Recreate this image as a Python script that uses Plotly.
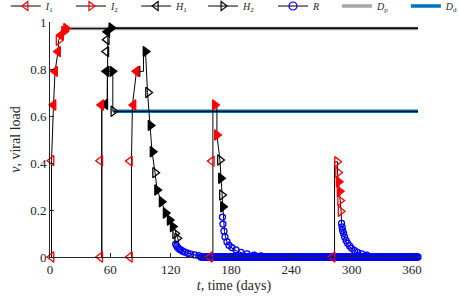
import numpy as np
import plotly.graph_objects as go

# ---------------- data ----------------
# black trajectory lines (t in days, v viral load)
trajA_t = [1.5, 1.5, 3.5, 5, 8, 8.5, 11, 14, 16, 366]
trajA_v = [0.0, 0.41, 0.647, 0.79, 0.874, 0.922, 0.945, 0.96, 0.972, 0.972]
trajB_t = [51.5, 51.5, 57, 57, 57, 57.5, 58, 61, 366]
trajB_v = [0.0, 0.647, 0.65, 0.79, 0.874, 0.925, 0.96, 0.975, 0.975]
trajC_t = [51.5, 51.5, 57, 57, 62.5, 62.5, 366]
trajC_v = [0.0, 0.647, 0.65, 0.79, 0.79, 0.62, 0.62]
trajD_t = [81, 81, 82, 86, 93, 93, 95, 97, 99.5, 101.5, 104.5, 106.5, 111, 115, 119, 123,
           126, 127.6, 128, 131, 136, 142, 150, 366]
trajD_v = [0.0, 0.41, 0.647, 0.79, 0.79, 0.874, 0.874, 0.70, 0.56, 0.448, 0.359, 0.285, 0.235,
           0.187, 0.157, 0.129, 0.094, 0.072, 0.05, 0.03, 0.018, 0.01, 0.005, 0.0]
trajE_t = [162, 162, 162, 166, 166, 169, 170, 171, 172, 172, 173, 173.5, 174.5, 176, 179, 183,
           189, 196, 205, 215]
trajE_v = [0.0, 0.41, 0.647, 0.647, 0.519, 0.413, 0.335, 0.264, 0.214, 0.17, 0.136, 0.108,
           0.086, 0.065, 0.045, 0.03, 0.02, 0.012, 0.006, 0.002]
trajF_t = [283, 283, 286, 286, 287, 288, 289, 289.5, 290, 291, 292, 293, 295, 297, 300, 304,
           309, 315, 322]
trajF_v = [0.0, 0.405, 0.405, 0.36, 0.32, 0.28, 0.24, 0.195, 0.143, 0.12, 0.10, 0.08, 0.062,
           0.048, 0.035, 0.022, 0.012, 0.006, 0.003]

# plateau lines
Dp_t = [12, 366]
Dp_v = [0.972, 0.972]
Dd_t = [63, 366]
Dd_v = [0.62, 0.62]

# marker series (fill: 1 = looks solid, 0 = open)
I1_t = [1.5, 1.5, 3.5, 5, 8, 11, 50, 50, 51, 79.5, 79.5, 83, 86, 159, 161, 281]
I1_v = [0.0, 0.41, 0.647, 0.79, 0.874, 0.945, 0.0, 0.41, 0.647, 0.0, 0.408, 0.647, 0.79,
        0.0, 0.408, 0.0]
I1_f = [0, 0, 1, 1, 1, 1, 0, 0, 1, 0, 0, 1, 1, 0, 0, 0]

I2_t = [8.5, 14, 16, 164, 166, 285.5, 286.5, 287, 288, 288.5, 289]
I2_v = [0.922, 0.96, 0.972, 0.647, 0.519, 0.405, 0.36, 0.32, 0.28, 0.24, 0.195]
I2_f = [0, 1, 1, 1, 1, 0, 0, 1, 1, 0, 0]

H1_t = [55, 56, 56, 56.5, 57, 87]
H1_v = [0.65, 0.79, 0.874, 0.925, 0.958, 0.79]
H1_f = [1, 1, 0, 0, 1, 0]

H2_t = [61, 62, 63, 95, 97.5, 100, 102, 104.5, 106.5, 111, 115, 119, 122, 124.5, 126.5,
        169, 170, 171, 172]
H2_v = [0.975, 0.79, 0.62, 0.874, 0.70, 0.56, 0.448, 0.359, 0.285, 0.235, 0.187, 0.157,
        0.13, 0.10, 0.08, 0.413, 0.335, 0.264, 0.214]
H2_f = [1, 1, 0, 1, 0, 1, 1, 0, 1, 1, 1, 1, 1, 0, 0, 0, 1, 0, 1]

R_t = [125, 126, 127, 128.5, 130, 132, 134, 137, 140, 144, 148,
       171.5, 172, 173, 174, 176, 178, 181, 185, 190, 196, 203, 210,
       290, 290.5, 291, 292, 293, 294.5, 296, 298, 300, 303, 306, 310, 315]
R_v = [0.055, 0.047, 0.04, 0.034, 0.03, 0.025, 0.021, 0.016, 0.012, 0.009, 0.006,
       0.17, 0.14, 0.11, 0.086, 0.065, 0.05, 0.04, 0.03, 0.02, 0.013, 0.008, 0.005,
       0.143, 0.128, 0.113, 0.10, 0.085, 0.07, 0.058, 0.047, 0.037, 0.027, 0.02, 0.013, 0.008]
# daily samples where R sits on v = 0
R_zero_t = np.arange(150, 367)
R_zero_v = np.zeros(len(R_zero_t))

x_ticks = [0, 60, 120, 180, 240, 300, 360]
y_ticks = [0, 0.2, 0.4, 0.6, 0.8, 1]
y_tick_labels = ["0", "0.2", "0.4", "0.6", "0.8", "1"]

# ---------------- figure ----------------
RED = "#FF0000"
BLUE = "#0000FF"
BLACK = "#000000"
GRAY = "#A6A6A6"
DBLUE = "#0072BD"
FONT = "Liberation Serif"

# one legend box per entry, placed along the top row (paper x of each box)
legend_ids = ["legend", "legend2", "legend3", "legend4", "legend5", "legend6", "legend7"]
legend_x = [-0.12, 0.057, 0.234, 0.416, 0.606, 0.780, 0.967]

fig = go.Figure()

# plateau lines
fig.add_trace(go.Scatter(x=Dp_t, y=Dp_v, mode="lines", line=dict(color=GRAY, width=3.5),
                         name="<i>D</i><sub>p</sub>", legend=legend_ids[5]))
fig.add_trace(go.Scatter(x=Dd_t, y=Dd_v, mode="lines", line=dict(color=DBLUE, width=3.5),
                         name="<i>D</i><sub>d</sub>", legend=legend_ids[6]))

# trajectory lines
for tt, vv in [(trajA_t, trajA_v), (trajB_t, trajB_v), (trajC_t, trajC_v),
               (trajD_t, trajD_v), (trajE_t, trajE_v), (trajF_t, trajF_v)]:
    fig.add_trace(go.Scatter(x=tt, y=vv, mode="lines", line=dict(color=BLACK, width=1),
                             showlegend=False, hoverinfo="skip"))


def fills(flags, col):
    return [col if f else "rgba(0,0,0,0)" for f in flags]


# R markers
fig.add_trace(go.Scatter(x=list(R_zero_t) + R_t, y=list(R_zero_v) + R_v, mode="markers",
                         marker=dict(symbol="circle-open", size=6, color=BLUE,
                                     line=dict(width=1.3, color=BLUE)),
                         showlegend=False, cliponaxis=False))
fig.add_trace(go.Scatter(x=H2_t, y=H2_v, mode="markers",
                         marker=dict(symbol="triangle-right", size=9, color=fills(H2_f, BLACK),
                                     line=dict(width=1.3, color=BLACK)),
                         showlegend=False, cliponaxis=False))
fig.add_trace(go.Scatter(x=H1_t, y=H1_v, mode="markers",
                         marker=dict(symbol="triangle-left", size=9, color=fills(H1_f, BLACK),
                                     line=dict(width=1.3, color=BLACK)),
                         showlegend=False, cliponaxis=False))
fig.add_trace(go.Scatter(x=I2_t, y=I2_v, mode="markers",
                         marker=dict(symbol="triangle-right", size=9, color=fills(I2_f, RED),
                                     line=dict(width=1.3, color=RED)),
                         showlegend=False, cliponaxis=False))
fig.add_trace(go.Scatter(x=I1_t, y=I1_v, mode="markers",
                         marker=dict(symbol="triangle-left", size=9, color=fills(I1_f, RED),
                                     line=dict(width=1.3, color=RED)),
                         showlegend=False, cliponaxis=False))

# legend entries
legend_items = [
    ("<i>I</i><sub>1</sub>", "triangle-left-open", RED),
    ("<i>I</i><sub>2</sub>", "triangle-right-open", RED),
    ("<i>H</i><sub>1</sub>", "triangle-left-open", BLACK),
    ("<i>H</i><sub>2</sub>", "triangle-right-open", BLACK),
    ("<i>R</i>", "circle-open", BLUE),
]
for k, (name, sym, col) in enumerate(legend_items):
    fig.add_trace(go.Scatter(x=[None], y=[None], mode="lines+markers", name=name,
                             line=dict(color=BLACK, width=1),
                             marker=dict(symbol=sym, size=8, color=col, line=dict(width=1.2)),
                             legend=legend_ids[k]))

axis_common = dict(showline=True, linecolor="#262626", linewidth=1, ticks="inside",
                   ticklen=4, tickcolor="#262626", showgrid=False, zeroline=False,
                   tickfont=dict(family=FONT, size=13, color="#262626"), mirror=False,
                   automargin=False)

fig.update_xaxes(range=[0, 366], tickvals=x_ticks,
                 title=dict(text="<i>t</i>, time (days)", font=dict(family=FONT, size=14,
                                                                  color="#262626"),
                            standoff=4),
                 **axis_common)
fig.update_yaxes(range=[0, 1], tickvals=y_ticks, ticktext=y_tick_labels,
                 title=dict(text="<i>v</i>, viral load", font=dict(family=FONT, size=14,
                                                                  color="#262626"),
                            standoff=6),
                 **axis_common)

legend_common = dict(orientation="h", yanchor="middle", y=1.068, xanchor="left",
                     entrywidthmode="pixels", entrywidth=12, itemwidth=30,
                     font=dict(family=FONT, size=10, color="#262626"),
                     bgcolor="rgba(0,0,0,0)", borderwidth=0)

fig.update_layout(
    width=459, height=303,
    margin=dict(l=50, r=41, t=22, b=46, autoexpand=False),
    paper_bgcolor="white", plot_bgcolor="white",
    font=dict(family=FONT, size=10, color="#262626"),
    showlegend=True,
)
fig.update_layout({lid: dict(x=lx, **legend_common) for lid, lx in zip(legend_ids, legend_x)})

fig.write_html("out.html", config={"displayModeBar": False},
               post_script="document.body.style.margin='0px';")
